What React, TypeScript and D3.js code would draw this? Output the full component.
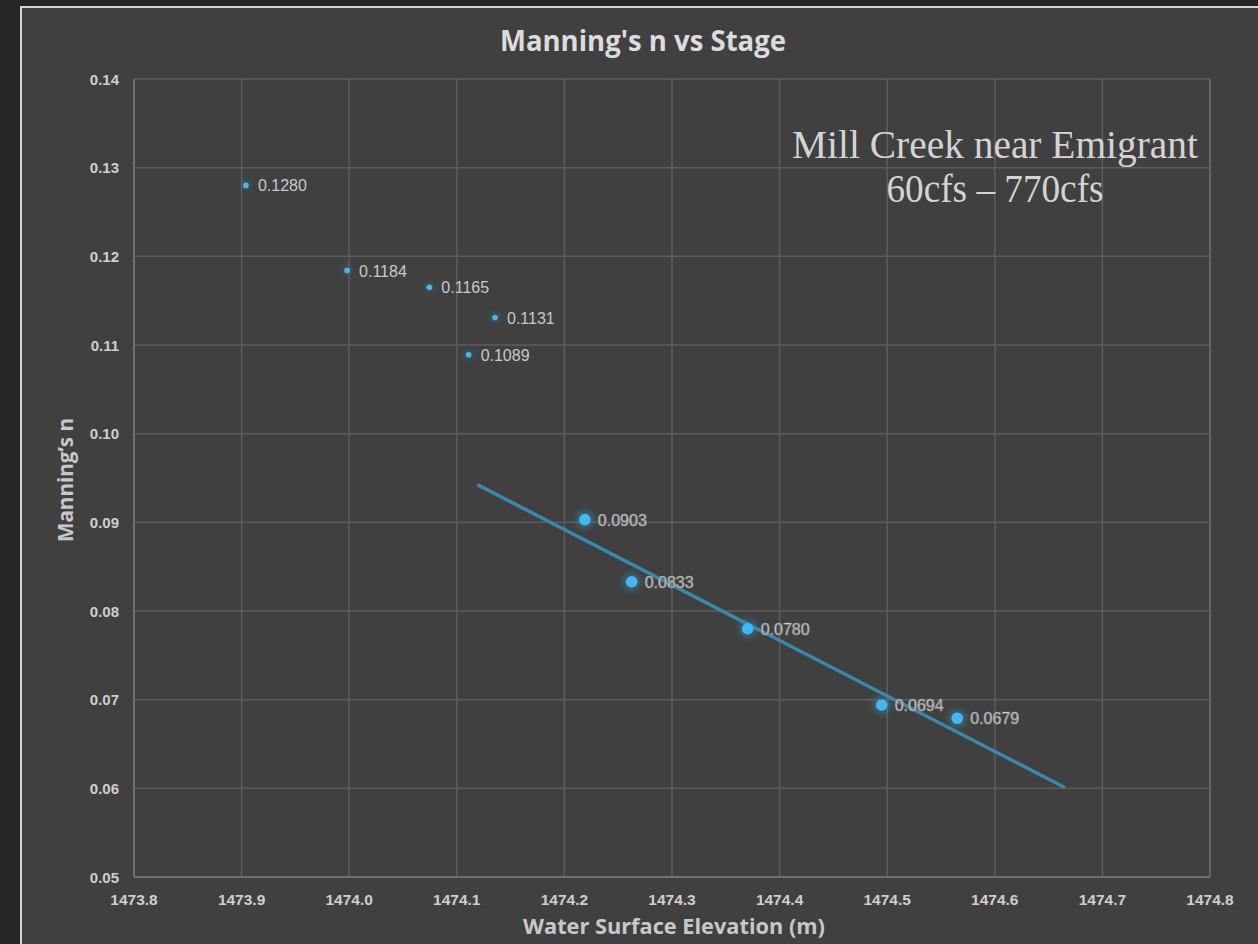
import React from "react";
import * as d3 from "d3";

const lowStageX = [1473.904, 1473.998, 1474.0745, 1474.1355, 1474.111];
const lowStageN = [0.128, 0.1184, 0.1165, 0.1131, 0.1089];
const highStageX = [1474.219, 1474.2625, 1474.3703, 1474.4949, 1474.5651];
const highStageN = [0.0903, 0.0833, 0.078, 0.0694, 0.0679];
const xTicks = [1473.8, 1473.9, 1474.0, 1474.1, 1474.2, 1474.3, 1474.4, 1474.5, 1474.6, 1474.7, 1474.8];
const yTicks = [0.05, 0.06, 0.07, 0.08, 0.09, 0.1, 0.11, 0.12, 0.13, 0.14];
const trendExtend = 0.1;

const W = 1258, H = 944;
const x = d3.scaleLinear().domain([1473.8, 1474.8]).range([134, 1210]);
const y = d3.scaleLinear().domain([0.05, 0.14]).range([877, 79]);

function regression(xs: number[], ys: number[]) {
  const mx = d3.mean(xs)!, my = d3.mean(ys)!;
  let sxy = 0, sxx = 0;
  xs.forEach((v, i) => { sxy += (v - mx) * (ys[i] - my); sxx += (v - mx) * (v - mx); });
  const slope = sxy / sxx;
  return (v: number) => my + slope * (v - mx);
}

export default function App() {
  const f = regression(highStageX, highStageN);
  const x0 = d3.min(highStageX)! - trendExtend;
  const x1 = d3.max(highStageX)! + trendExtend;
  const trend = d3.line<number>().x(d => x(d)).y(d => y(f(d)))([x0, x1]) || "";
  const sans = "'Open Sans', 'Liberation Sans', sans-serif";
  const arial = "'Liberation Sans', Arial, sans-serif";
  return (
    <div style={{ position: "absolute", left: 0, top: 0 }}>
      <style>{"body{margin:0;background:#262626}"}</style>
      <svg width={W} height={H} style={{ display: "block" }}>
        <defs>
          <filter id="glow" x="-2" y="-2" width="5" height="5">
            <feGaussianBlur stdDeviation="3" />
          </filter>
        </defs>
        <rect x={0} y={0} width={W} height={H} fill="#262626" />
        <rect x={21} y={7} width={W} height={H} fill="#404040" stroke="#d6d6d6" strokeWidth={2} />
        {yTicks.map(t => (
          <line key={"gy" + t} x1={x(1473.8)} x2={x(1474.8)} y1={y(t)} y2={y(t)} stroke="#5d5d5d" strokeWidth={1.5} />
        ))}
        {xTicks.map(t => (
          <line key={"gx" + t} x1={x(t)} x2={x(t)} y1={y(0.05)} y2={y(0.14)} stroke="#5d5d5d" strokeWidth={1.5} />
        ))}
        <line x1={x(1473.8)} x2={x(1473.8)} y1={y(0.05)} y2={y(0.14)} stroke="#7a7a7a" strokeWidth={1.5} />
        <line x1={x(1473.8)} x2={x(1474.8)} y1={y(0.05)} y2={y(0.05)} stroke="#7a7a7a" strokeWidth={1.5} />
        <line x1={x(1474.8)} x2={x(1474.8)} y1={y(0.05)} y2={y(0.14)} stroke="#6a6a6a" strokeWidth={1.5} />
        {yTicks.map(t => (
          <text key={"ty" + t} x={119} y={y(t) + 5.5} textAnchor="end" fontFamily={arial} fontWeight="bold" fontSize={15} fill="#cfcfcf">
            {d3.format(".2f")(t)}
          </text>
        ))}
        {xTicks.map(t => (
          <text key={"tx" + t} x={x(t)} y={905} textAnchor="middle" fontFamily={arial} fontWeight="bold" fontSize={15.5} fill="#cfcfcf">
            {d3.format(".1f")(t)}
          </text>
        ))}
        <text x={643} y={51} textAnchor="middle" fontFamily={sans} fontWeight="bold" fontSize={28} fill="#dcdcdc" textLength={286} lengthAdjust="spacingAndGlyphs">
          Manning's n vs Stage
        </text>
        <text x={674} y={934} textAnchor="middle" fontFamily={sans} fontWeight="bold" fontSize={21} fill="#c8c8c8" textLength={302} lengthAdjust="spacingAndGlyphs">
          Water Surface Elevation (m)
        </text>
        <text transform="translate(73,480) rotate(-90)" textAnchor="middle" fontFamily={sans} fontWeight="bold" fontSize={21} fill="#c8c8c8" textLength={124} lengthAdjust="spacingAndGlyphs">
          Manning’s n
        </text>
        <text x={995} y={158} textAnchor="middle" fontFamily="'Liberation Serif', 'DejaVu Serif', serif" fontSize={39} fill="#d4d4d4" textLength={406} lengthAdjust="spacingAndGlyphs">
          Mill Creek near Emigrant
        </text>
        <text x={995} y={202} textAnchor="middle" fontFamily="'Liberation Serif', 'DejaVu Serif', serif" fontSize={39} fill="#d4d4d4" textLength={217} lengthAdjust="spacingAndGlyphs">
          60cfs – 770cfs
        </text>
        <path d={trend} stroke="#3b87ad" strokeWidth={3.5} fill="none" />
        {lowStageX.map((v, i) => (
          <g key={"l" + i}>
            <circle cx={x(v)} cy={y(lowStageN[i])} r={4} fill="#2f7fa8" opacity={0.6} filter="url(#glow)" />
            <circle cx={x(v)} cy={y(lowStageN[i])} r={2.8} fill="#4cb6ea" />
            <text x={x(v) + 12} y={y(lowStageN[i]) + 6} fontFamily={arial} fontSize={16} fill="#c9c9c9">
              {d3.format(".4f")(lowStageN[i])}
            </text>
          </g>
        ))}
        {highStageX.map((v, i) => (
          <g key={"h" + i}>
            <circle cx={x(v)} cy={y(highStageN[i])} r={9} fill="#3a90ba" opacity={0.5} filter="url(#glow)" />
            <circle cx={x(v)} cy={y(highStageN[i])} r={5.8} fill="#44b8ee" />
            <text x={x(v) + 13} y={y(highStageN[i]) + 6} fontFamily={arial} fontSize={16} fill="#e6e6e6" stroke="#8a8a8a" strokeWidth={0.7}>
              {d3.format(".4f")(highStageN[i])}
            </text>
          </g>
        ))}
      </svg>
    </div>
  );
}
